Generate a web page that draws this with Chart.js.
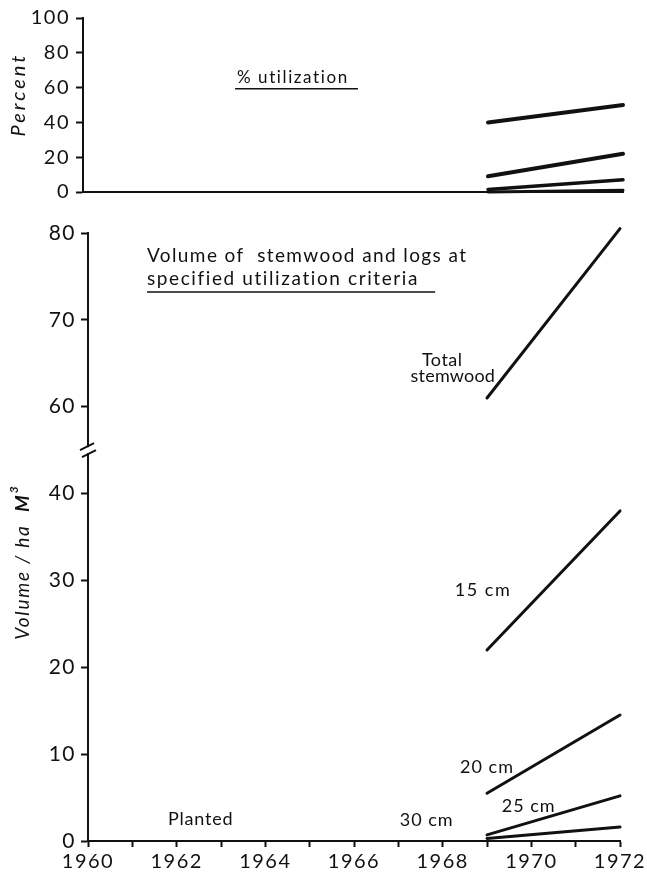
<!DOCTYPE html>
<html>
<head>
<meta charset="utf-8">
<script src="https://cdn.jsdelivr.net/npm/chart.js@4.4.1/dist/chart.umd.min.js"></script>
<style>
  html, body { margin: 0; padding: 0; background: #fff; }
  #wrap { position: relative; width: 647px; height: 872px; overflow: hidden; background: #fff; }
  canvas { position: absolute; left: 0; }
  #pctChart { top: 0; }
  #volChart { top: 210px; }
</style>
</head>
<body>
<div id="wrap">
  <canvas id="pctChart" width="647" height="210"></canvas>
  <canvas id="volChart" width="647" height="662"></canvas>
</div>
<script>
// Measurement years
const years = [1969, 1972];

// Percent utilization by minimum log top diameter
const pct15cm = [40, 50];
const pct20cm = [9, 22];
const pct25cm = [1.5, 7];
const pct30cm = [0, 1];

// Volume per hectare (m3)
const volTotal = [61, 80.5];
const vol15cm = [22, 38];
const vol20cm = [5.5, 14.5];
const vol25cm = [0.7, 5.2];
const vol30cm = [0.3, 1.6];

// Tick labels
const yearTickLabels = [1960, 1962, 1964, 1966, 1968, 1970, 1972];
const pctTickLabels = [0, 20, 40, 60, 80, 100];
const volTickLabels = [0, 10, 20, 30, 40, 60, 70, 80];

const INK = '#111';
const FONT = 'Lato, "DejaVu Sans", sans-serif';

// Broken volume axis: the 40..60 range is squeezed into 10 axis units
const BREAK_FROM = 40, BREAK_TO = 60, BREAK_SPAN = 10;
function toAxis(v) {
  if (v <= BREAK_FROM) return v;
  if (v >= BREAK_TO) return v - (BREAK_TO - BREAK_FROM - BREAK_SPAN);
  return BREAK_FROM + (v - BREAK_FROM) * BREAK_SPAN / (BREAK_TO - BREAK_FROM);
}
function fromAxis(a) {
  if (a <= BREAK_FROM) return a;
  if (a >= BREAK_FROM + BREAK_SPAN) return a + (BREAK_TO - BREAK_FROM - BREAK_SPAN);
  return BREAK_FROM + (a - BREAK_FROM) * (BREAK_TO - BREAK_FROM) / BREAK_SPAN;
}

function points(values, map) {
  return values.map((v, i) => ({ x: years[i], y: map ? map(v) : v }));
}
function lineSet(values, width, map) {
  return {
    data: points(values, map),
    borderColor: INK,
    borderWidth: width,
    borderCapStyle: 'round',
    pointRadius: 0,
    fill: false,
    tension: 0,
    clip: false
  };
}
function range(a, b, step) {
  const out = [];
  for (let v = a; v <= b + 1e-9; v += step) out.push(v);
  return out;
}

function drawText(ctx, text, x, y, font, align, spacing, baseline) {
  ctx.save();
  ctx.font = font;
  ctx.fillStyle = INK;
  ctx.textAlign = align || 'left';
  ctx.textBaseline = baseline || 'alphabetic';
  if ('letterSpacing' in ctx) ctx.letterSpacing = (spacing || 0) + 'px';
  ctx.fillText(text, x, y);
  ctx.restore();
}
function rule(ctx, x1, x2, y, w) {
  ctx.save();
  ctx.strokeStyle = INK;
  ctx.lineWidth = w || 1.5;
  ctx.beginPath();
  ctx.moveTo(x1, y);
  ctx.lineTo(x2, y);
  ctx.stroke();
  ctx.restore();
}

// wide-set numerals on the axes
const tickSpacing = {
  id: 'tickSpacing',
  beforeDraw(chart) { if ('letterSpacing' in chart.ctx) chart.ctx.letterSpacing = '1.5px'; },
  afterDraw(chart) { if ('letterSpacing' in chart.ctx) chart.ctx.letterSpacing = '0px'; }
};

Chart.defaults.font.family = FONT;
Chart.defaults.color = INK;
Chart.defaults.animation = false;

const axisGrid = { display: true, drawOnChartArea: false, drawTicks: true, tickLength: 7, tickWidth: 2, color: INK };
const axisBorder = { display: true, color: INK, width: 2 };

// ---------- Percent utilization panel ----------
const pctNotes = {
  id: 'pctNotes',
  afterDraw(chart) {
    const { ctx, scales: { x, y } } = chart;
    drawText(ctx, '% utilization', x.getPixelForValue(1963.42), y.getPixelForValue(62.7),
      '17px ' + FONT, 'left', 1.6);
    rule(ctx, x.getPixelForValue(1963.38), x.getPixelForValue(1966.11), y.getPixelForValue(59.3), 1.5);
    // rotated axis title
    ctx.save();
    ctx.translate(chart.chartArea.left - 64, y.getPixelForValue(56));
    ctx.rotate(-Math.PI / 2);
    drawText(ctx, 'Percent', 0, 0, 'italic 20px ' + FONT, 'center', 3, 'middle');
    ctx.restore();
  }
};

new Chart(document.getElementById('pctChart'), {
  type: 'line',
  data: {
    datasets: [
      lineSet(pct15cm, 4),
      lineSet(pct20cm, 4),
      lineSet(pct25cm, 3.5),
      lineSet(pct30cm, 3)
    ]
  },
  options: {
    responsive: false,
    devicePixelRatio: 1,
    layout: { padding: { left: 0, right: 24, top: 16, bottom: 0 } },
    plugins: { legend: { display: false }, tooltip: { enabled: false } },
    scales: {
      x: {
        type: 'linear', min: 1960, max: 1972,
        grid: { display: false },
        border: axisBorder,
        ticks: { display: false },
        afterFit(s) { s.height = 17; }
      },
      y: {
        type: 'linear', min: 0, max: 100,
        grid: axisGrid,
        border: axisBorder,
        afterBuildTicks(s) { s.ticks = range(0, 100, 10).map(v => ({ value: v })); },
        ticks: {
          padding: 6,
          font: { size: 20 },
          callback: v => pctTickLabels.includes(v) ? String(v) : ''
        },
        afterFit(s) { s.width = 83; }
      }
    }
  },
  plugins: [tickSpacing, pctNotes]
});

// ---------- Volume panel ----------
const volNotes = {
  id: 'volNotes',
  afterDraw(chart) {
    const { ctx, chartArea, scales: { x, y } } = chart;
    const px = yr => x.getPixelForValue(yr);
    const py = v => y.getPixelForValue(toAxis(v));
    const f = '18px ' + FONT;

    drawText(ctx, 'Volume of  stemwood and logs at', px(1961.33), py(76.66), '19px ' + FONT, 'left', 1.4);
    drawText(ctx, 'specified utilization criteria', px(1961.33), py(74.0), '19px ' + FONT, 'left', 1.6);
    rule(ctx, px(1961.33), px(1967.83), py(73.2), 1.5);

    drawText(ctx, 'Total', px(1967.99), py(65.4), f, 'center', 0.5, 'middle');
    drawText(ctx, 'stemwood', px(1968.23), py(63.5), f, 'center', 0.2, 'middle');
    drawText(ctx, '15 cm', px(1968.91), py(28.9), f, 'center', 1.5, 'middle');
    drawText(ctx, '20 cm', px(1969.0), py(8.46), f, 'center', 1, 'middle');
    drawText(ctx, '25 cm', px(1969.94), py(3.97), f, 'center', 1, 'middle');
    drawText(ctx, '30 cm', px(1967.64), py(2.42), f, 'center', 1, 'middle');
    drawText(ctx, 'Planted', px(1962.54), py(2.48), f, 'center', 0.8, 'middle');

    // axis break marks
    const bx = chartArea.left;
    const by = y.getPixelForValue(BREAK_FROM + BREAK_SPAN / 2);
    ctx.save();
    ctx.fillStyle = '#fff';
    ctx.fillRect(bx - 3, by - 3, 6, 6);
    ctx.strokeStyle = INK;
    ctx.lineWidth = 2;
    ctx.beginPath();
    ctx.moveTo(bx - 8, by); ctx.lineTo(bx + 6, by - 7);
    ctx.moveTo(bx - 6, by + 7); ctx.lineTo(bx + 8, by);
    ctx.stroke();
    ctx.restore();

    // rotated axis title: Volume / ha  M^3
    ctx.save();
    ctx.translate(chartArea.left - 65, py(32));
    ctx.rotate(-Math.PI / 2);
    ctx.fillStyle = INK;
    ctx.textBaseline = 'middle';
    const sp = 1.8;
    const f1 = 'italic 19px ' + FONT, f2 = 'italic 700 19px ' + FONT, f3 = 'italic 700 12px ' + FONT;
    const t1 = 'Volume / ha  ', t2 = 'M', t3 = '3';
    ctx.font = f1; const w1 = ctx.measureText(t1).width + t1.length * sp;
    ctx.font = f2; const w2 = ctx.measureText(t2).width;
    ctx.font = f3; const w3 = ctx.measureText(t3).width;
    let cx = -(w1 + w2 + w3 + 2) / 2;
    if ('letterSpacing' in ctx) ctx.letterSpacing = sp + 'px';
    ctx.font = f1; ctx.fillText(t1, cx, 0); cx += w1;
    if ('letterSpacing' in ctx) ctx.letterSpacing = '0px';
    ctx.font = f2; ctx.fillText(t2, cx, 0); cx += w2 + 2;
    ctx.font = f3; ctx.fillText(t3, cx, -9);
    ctx.restore();
  }
};

new Chart(document.getElementById('volChart'), {
  type: 'line',
  data: {
    datasets: [
      lineSet(volTotal, 3, toAxis),
      lineSet(vol15cm, 3, toAxis),
      lineSet(vol20cm, 3, toAxis),
      lineSet(vol25cm, 3, toAxis),
      lineSet(vol30cm, 3, toAxis)
    ]
  },
  options: {
    responsive: false,
    devicePixelRatio: 1,
    layout: { padding: { left: 0, right: 27, top: 23, bottom: 0 } },
    plugins: { legend: { display: false }, tooltip: { enabled: false } },
    scales: {
      x: {
        type: 'linear', min: 1960, max: 1972,
        grid: { display: true, drawOnChartArea: false, drawTicks: true, tickLength: 6, tickWidth: 2, color: INK },
        border: axisBorder,
        afterBuildTicks(s) { s.ticks = range(1960, 1972, 1).map(v => ({ value: v })); },
        ticks: {
          padding: 3,
          maxRotation: 0,
          autoSkip: false,
          font: { size: 20 },
          callback: v => yearTickLabels.includes(v) ? String(v) : ''
        },
        afterFit(s) { s.height = 31; }
      },
      y: {
        type: 'linear', min: 0, max: toAxis(80),
        grid: axisGrid,
        border: axisBorder,
        afterBuildTicks(s) { s.ticks = volTickLabels.map(v => ({ value: toAxis(v) })); },
        ticks: {
          padding: 5,
          font: { size: 21 },
          callback: v => String(Math.round(fromAxis(v)))
        },
        afterFit(s) { s.width = 88; }
      }
    }
  },
  plugins: [tickSpacing, volNotes]
});
</script>
</body>
</html>
